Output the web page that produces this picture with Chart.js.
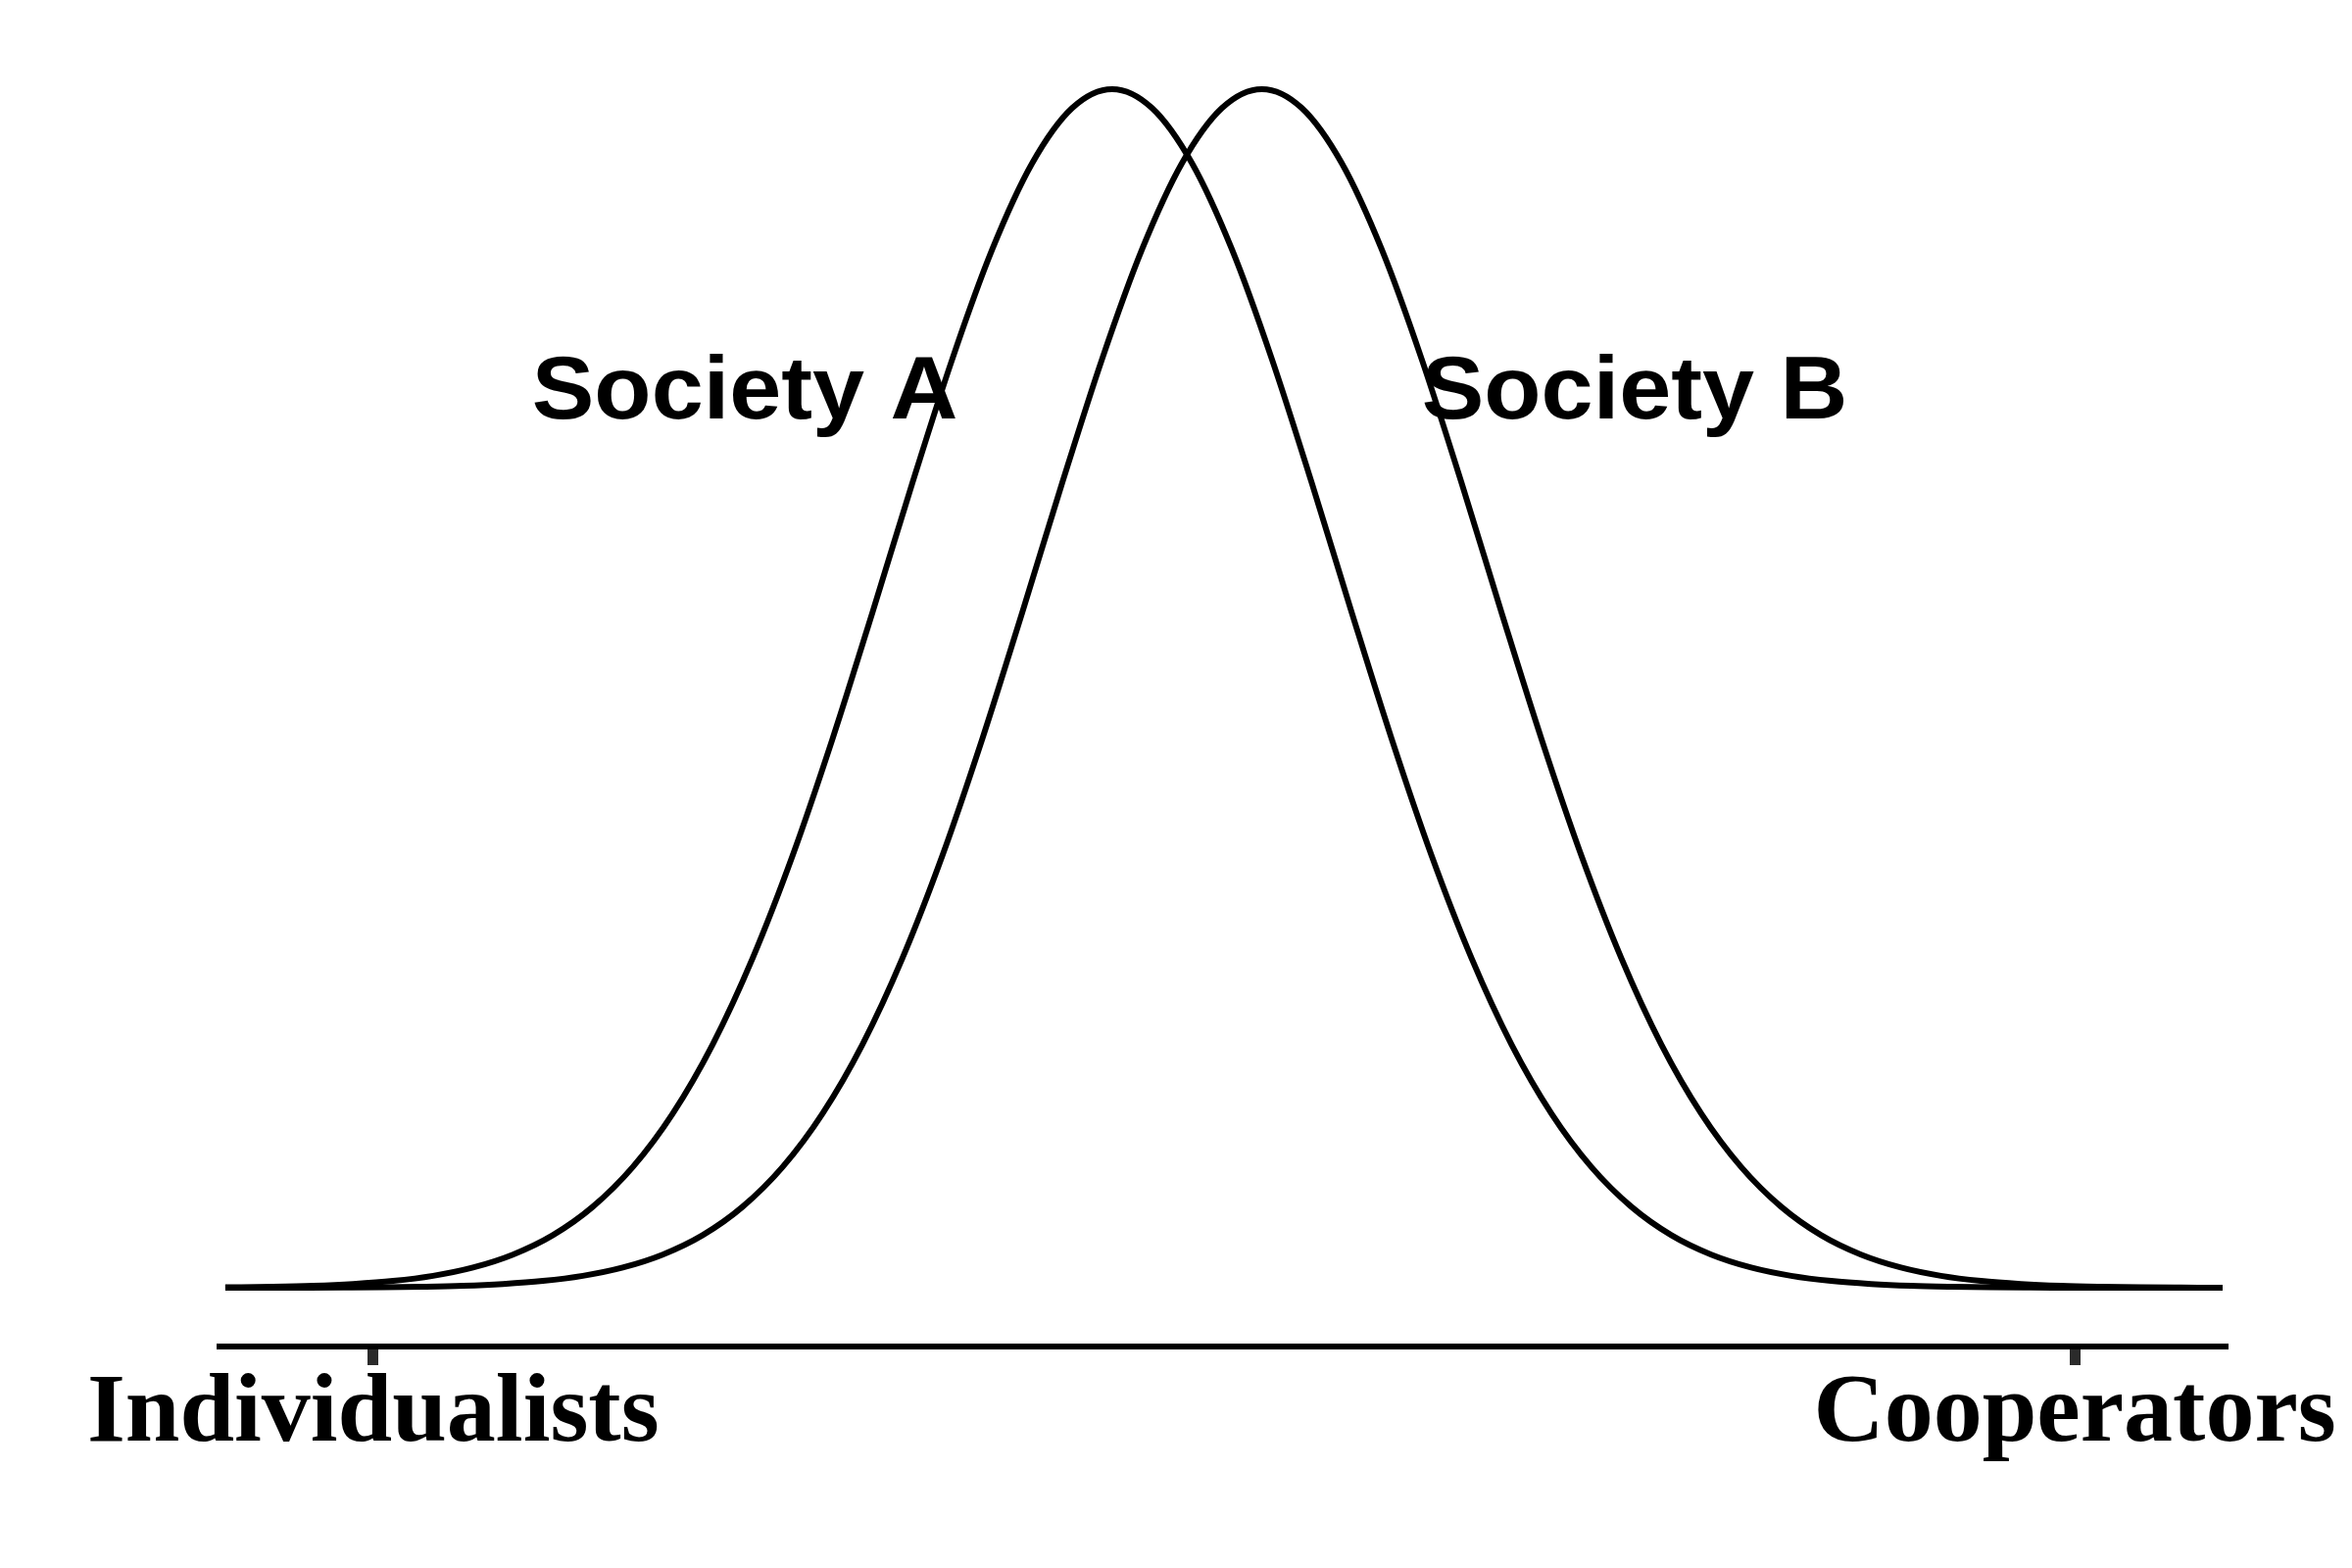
<!DOCTYPE html>
<html>
<head>
<meta charset="utf-8">
<script src="https://cdn.jsdelivr.net/npm/chart.js@4/dist/chart.umd.min.js"></script>
<style>
  html, body { margin: 0; padding: 0; background: #ffffff; }
  #wrap { width: 2400px; height: 1600px; }
</style>
</head>
<body>
<div id="wrap"><canvas id="c" width="2400" height="1600"></canvas></div>
<script>
// ---- data (x: position on the individualist–cooperator scale, y: relative frequency, peak = 100)
const xSocietyA = [0,2.4,4.4,6.4,8.4,10.4,12.4,14.4,16.4,18.4,20.4,22.4,24.4,26.4,28.4,30.4,32.4,34.4,36.4,38.4,40.4,
                   42.4,44.4,46.4,48.4,50.4,52.4,54.4,56.4,58.4,60.4,62.4,64.4,66.4,68.4,70.4,72.4,74.4,76.4,78.4,
                   80.4,82.4,84.4,86.4,88.4,90.4,92.4,94.4,96.4,98.4,100];
const societyA  = [0.04,0.09,0.17,0.32,0.57,1.00,1.69,2.77,4.39,6.76,10.07,14.53,20.30,27.49,36.04,45.78,56.33,67.13,
                   77.48,86.63,93.82,98.42,100,98.42,93.82,86.63,77.48,67.13,56.33,45.78,36.04,27.49,20.30,14.53,
                   10.07,6.76,4.39,2.77,1.69,1.00,0.57,0.32,0.17,0.09,0.04,0.02,0.01,0,0,0,0];
const xSocietyB = [0,1.9,3.9,5.9,7.9,9.9,11.9,13.9,15.9,17.9,19.9,21.9,23.9,25.9,27.9,29.9,31.9,33.9,35.9,37.9,39.9,
                   41.9,43.9,45.9,47.9,49.9,51.9,53.9,55.9,57.9,59.9,61.9,63.9,65.9,67.9,69.9,71.9,73.9,75.9,77.9,
                   79.9,81.9,83.9,85.9,87.9,89.9,91.9,93.9,95.9,97.9,100];
const societyB  = [0,0,0.01,0.02,0.04,0.09,0.17,0.32,0.57,1.00,1.69,2.77,4.39,6.76,10.07,14.53,20.30,27.49,36.04,
                   45.78,56.33,67.13,77.48,86.63,93.82,98.42,100,98.42,93.82,86.63,77.48,67.13,56.33,45.78,36.04,
                   27.49,20.30,14.53,10.07,6.76,4.39,2.77,1.69,1.00,0.57,0.32,0.17,0.09,0.04,0.02,0.01];
const seriesNames = ['Society A', 'Society B'];
const tickValues = [7.4, 92.6];
const tickLabels = ['Individualists', 'Cooperators'];
// label anchors in data units (left edge, text baseline)
const labelAnchorX = [15.35, 59.9];
const labelAnchorY = [72.5, 72.5];

const toPoints = (xs, ys) => xs.map((x, i) => ({ x: x, y: ys[i] }));

const seriesLabelPlugin = {
  id: 'seriesLabels',
  beforeDatasetsDraw(chart) {
    const ctx = chart.ctx;
    const xs = chart.scales.x, ys = chart.scales.y;
    const stretch = 1.06;
    seriesNames.forEach((name, i) => {
      const px = xs.getPixelForValue(labelAnchorX[i]);
      const py = ys.getPixelForValue(labelAnchorY[i]);
      ctx.save();
      ctx.fillStyle = '#000000';
      ctx.font = 'bold 90px "Liberation Sans", Arial, sans-serif';
      ctx.textAlign = 'left';
      ctx.textBaseline = 'alphabetic';
      ctx.translate(px, py);
      ctx.scale(stretch, 1);
      ctx.fillText(name, 0, 0);
      ctx.restore();
    });
  }
};

new Chart(document.getElementById('c'), {
  type: 'line',
  data: {
    datasets: [
      { label: seriesNames[0], data: toPoints(xSocietyA, societyA) },
      { label: seriesNames[1], data: toPoints(xSocietyB, societyB) }
    ]
  },
  options: {
    responsive: false,
    animation: false,
    devicePixelRatio: 1,
    layout: { padding: { left: 224, right: 127, top: 30, bottom: 105 } },
    elements: {
      line: { borderColor: '#000000', borderWidth: 6, fill: false, cubicInterpolationMode: 'monotone' },
      point: { radius: 0, hoverRadius: 0 }
    },
    plugins: { legend: { display: false }, tooltip: { enabled: false } },
    events: [],
    scales: {
      x: {
        type: 'linear',
        min: -0.29,
        max: 100.25,
        afterBuildTicks(scale) { scale.ticks = tickValues.map(v => ({ value: v })); },
        grid: { display: true, drawOnChartArea: false, drawTicks: true, tickLength: 19, tickWidth: 11, tickColor: '#2b2b2b' },
        border: { display: true, color: '#000000', width: 6 },
        ticks: {
          autoSkip: false,
          maxRotation: 0,
          padding: -9,
          color: '#000000',
          font: { family: '"Liberation Serif", "Times New Roman", serif', size: 100, weight: 'bold', lineHeight: 1.2 },
          callback(value, index) { return tickLabels[index]; }
        }
      },
      y: {
        display: false,
        min: -4.9,
        max: 104.98
      }
    }
  },
  plugins: [seriesLabelPlugin]
});
</script>
</body>
</html>
